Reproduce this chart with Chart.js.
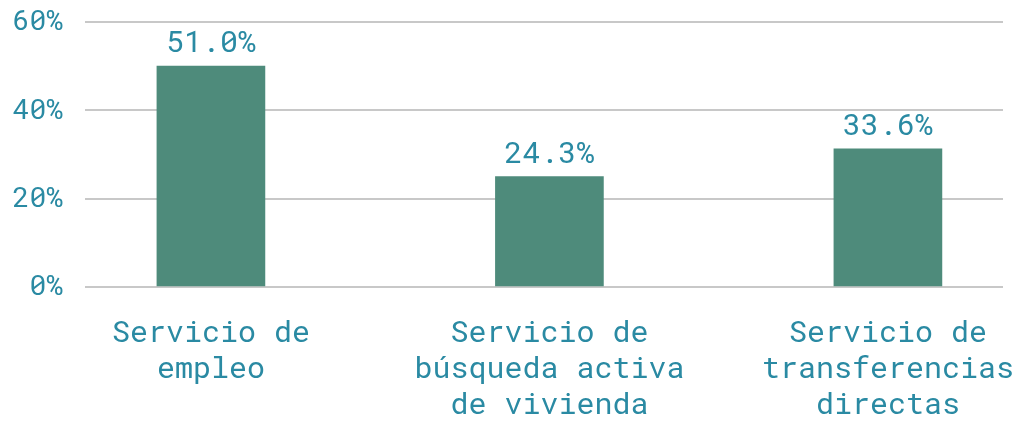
<!DOCTYPE html>
<html>
<head>
<meta charset="utf-8">
<script src="https://cdn.jsdelivr.net/npm/chart.js@4/dist/chart.umd.min.js"></script>
<style>
  body { margin: 0; background: #fff; }
  #wrap { width: 1013px; height: 423px; }
</style>
</head>
<body>
<div id="wrap"><canvas id="chart"></canvas></div>
<script>
const categories = [
    ['Servicio de', 'empleo'],
    ['Servicio de', 'búsqueda activa', 'de vivienda'],
    ['Servicio de', 'transferencias', 'directas']
];
// bar heights as drawn in the picture
const barValues = [50, 25, 31.3];
// the printed value labels
const valueLabels = [51.0, 24.3, 33.6];
const yTicks = [0, 20, 40, 60];

const FONT = "'Roboto Mono', 'DejaVu Sans Mono', monospace";
const TEXT = '#2a8aa3';

const valueLabelPlugin = {
    id: 'valueLabels',
    afterDatasetsDraw(chart) {
        const ctx = chart.ctx;
        const meta = chart.getDatasetMeta(0);
        ctx.save();
        ctx.font = '30px ' + FONT;
        ctx.fillStyle = TEXT;
        ctx.textAlign = 'center';
        ctx.textBaseline = 'alphabetic';
        meta.data.forEach((bar, i) => {
            ctx.fillText(valueLabels[i].toFixed(1) + '%', bar.x, bar.y - 14);
        });
        ctx.restore();
    }
};

new Chart(document.getElementById('chart'), {
    type: 'bar',
    data: {
        datasets: [{
            data: barValues.map((v, i) => ({ x: i, y: v })),
            backgroundColor: '#4e8b7b',
            barThickness: 108,
        }],
    },
    options: {
        responsive: true,
        maintainAspectRatio: false,
        animation: false,
        layout: { padding: { top: 22, right: 10, left: 0, bottom: 0 } },
        plugins: { legend: { display: false }, tooltip: { enabled: false } },
        scales: {
            x: {
                type: 'linear',
                offset: false,
                min: -0.372,
                max: 2.34,
                grid: { display: false, drawTicks: false, offset: false },
                border: { display: false },
                afterBuildTicks: scale => {
                    scale.ticks = categories.map((c, i) => ({ value: i }));
                },
                afterFit: scale => {
                    scale.height = 136;
                    scale.paddingLeft = 0;
                    scale.paddingRight = 0;
                },
                ticks: {
                    autoSkip: false,
                    maxRotation: 0,
                    padding: 28,
                    color: TEXT,
                    font: { family: FONT, size: 30, lineHeight: 1.2 },
                    callback: value => categories[value],
                },
            },
            y: {
                min: 0,
                max: 60,
                afterBuildTicks: scale => {
                    scale.ticks = yTicks.map(v => ({ value: v }));
                },
                afterFit: scale => {
                    scale.width = 85;
                    scale.paddingTop = 0;
                    scale.paddingBottom = 0;
                },
                grid: { color: '#c8c8c8', lineWidth: 2, drawTicks: false },
                border: { display: false },
                ticks: {
                    padding: 22,
                    color: TEXT,
                    font: { family: FONT, size: 28, lineHeight: 1.2 },
                    callback: v => v + '%',
                },
            },
        },
    },
    plugins: [valueLabelPlugin],
});
</script>
</body>
</html>
